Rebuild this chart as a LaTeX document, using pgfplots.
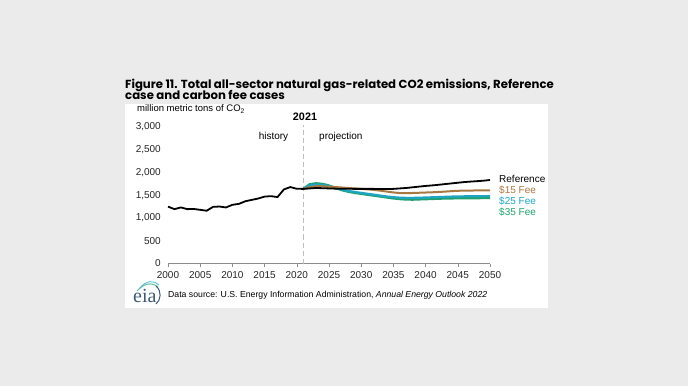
\documentclass[border=0pt]{standalone}
\usepackage{pgfplots}
\pgfplotsset{compat=1.18}
\usepackage{fontspec}
\setmainfont{Liberation Sans}
\newfontfamily\titlefont{Poppins}
\newfontfamily\logofont{Liberation Serif}
\definecolor{bg}{HTML}{EBEBEB}
\definecolor{gridc}{HTML}{E2E2E2}
\definecolor{axc}{HTML}{8C8C8C}
\definecolor{fee15}{RGB}{168,120,66}
\definecolor{fee25}{RGB}{30,165,195}
\definecolor{fee35}{RGB}{33,160,110}
\definecolor{logoc}{HTML}{3E5A74}
\begin{document}
\begin{tikzpicture}[x=1pt,y=1pt]
\path[fill=bg] (0,0) rectangle (688,386);
\path[fill=white] (125,78) rectangle (548,282);
% title
\node[anchor=base west,inner sep=0] at (125,297) {\titlefont\bfseries\fontsize{11.7}{13}\selectfont Figure 11. Total all-sector natural gas-related CO2 emissions, Reference};
\node[anchor=base west,inner sep=0] at (125,286) {\titlefont\bfseries\fontsize{11.7}{13}\selectfont case and carbon fee cases};
% y label
\node[anchor=base west,inner sep=0] at (137,274) {\fontsize{9.5}{11}\selectfont million metric tons of CO\textsubscript{2}};
\begin{axis}[
  at={(168pt,122.5pt)}, anchor=south west,
  scale only axis, width=322pt, height=136.5pt,
  xmin=2000, xmax=2050, ymin=0, ymax=3000,
  xtick={2000,2005,...,2050}, ytick={0,500,...,3000},
  axis x line*=bottom, axis y line=none,
  ymajorgrids, grid style={gridc, line width=0.6pt},
  x axis line style={axc, line width=0.8pt},
  xtick style={axc, line width=0.6pt},
  major tick length=3pt, xtick align=outside,
  /pgf/number format/assume math mode=true,
  xticklabel={\pgfmathprintnumber[1000 sep={}]{\tick}},
  ticklabel style={font=\fontsize{10}{12}\selectfont, text=black!85},
  xticklabel style={yshift=-1pt},
  clip=false,
]
\draw[gray!50, line width=0.8pt, dash pattern=on 5pt off 3pt] (axis cs:2021,0) -- (axis cs:2021,3050);
\addplot[fee35, line width=2.4pt] coordinates {
(2021,1640)(2022,1740)(2023,1762)(2024,1748)(2025,1712)(2026,1662)(2027,1612)(2028,1578)(2029,1552)(2030,1532)
(2031,1512)(2032,1492)(2033,1472)(2034,1452)(2035,1432)(2036,1417)(2037,1407)(2038,1405)(2039,1410)(2040,1415)
(2041,1420)(2042,1425)(2043,1430)(2044,1432)(2045,1435)(2046,1436)(2047,1437)(2048,1438)(2049,1439)(2050,1440)};
\addplot[fee25, line width=2.2pt] coordinates {
(2021,1640)(2022,1712)(2023,1735)(2024,1728)(2025,1700)(2026,1662)(2027,1625)(2028,1595)(2029,1572)(2030,1552)
(2031,1532)(2032,1512)(2033,1492)(2034,1472)(2035,1457)(2036,1447)(2037,1442)(2038,1442)(2039,1446)(2040,1450)
(2041,1455)(2042,1460)(2043,1465)(2044,1470)(2045,1474)(2046,1476)(2047,1478)(2048,1479)(2049,1480)(2050,1481)};
\addplot[fee15, line width=2pt] coordinates {
(2021,1640)(2022,1678)(2023,1698)(2024,1698)(2025,1690)(2026,1680)(2027,1670)(2028,1660)(2029,1650)(2030,1640)
(2031,1630)(2032,1618)(2033,1600)(2034,1580)(2035,1562)(2036,1547)(2037,1545)(2038,1550)(2039,1555)(2040,1560)
(2041,1565)(2042,1572)(2043,1580)(2044,1590)(2045,1598)(2046,1602)(2047,1604)(2048,1605)(2049,1606)(2050,1607)};
\addplot[black, line width=1.8pt] coordinates {
(2000,1250)(2001,1195)(2002,1232)(2003,1195)(2004,1198)(2005,1180)(2006,1160)(2007,1245)(2008,1252)(2009,1232)
(2010,1290)(2011,1310)(2012,1368)(2013,1398)(2014,1428)(2015,1470)(2016,1480)(2017,1460)(2018,1628)(2019,1680)
(2020,1642)(2021,1640)(2022,1650)(2023,1660)(2024,1655)(2025,1650)(2026,1645)(2027,1645)(2028,1642)(2029,1640)
(2030,1640)(2031,1640)(2032,1640)(2033,1636)(2034,1636)(2035,1640)(2036,1650)(2037,1660)(2038,1675)(2039,1690)
(2040,1705)(2041,1716)(2042,1730)(2043,1745)(2044,1760)(2045,1775)(2046,1790)(2047,1800)(2048,1810)(2049,1820)(2050,1835)};
\end{axis}
% y tick labels
\foreach \v/\t in {0/0,500/500,1000/{1,000},1500/{1,500},2000/{2,000},2500/{2,500},3000/{3,000}}{
  \node[anchor=east,inner sep=0,font=\fontsize{10}{12}\selectfont,text=black!85] at (161,{122.5+\v/3000*136.5}) {\t};
}
% annotations
\node[anchor=base,inner sep=0] at (305,265) {\bfseries\fontsize{10.8}{12}\selectfont 2021};
\node[anchor=base,inner sep=0] at (273.5,246) {\fontsize{10}{12}\selectfont history};
\node[anchor=base west,inner sep=0] at (319,246) {\fontsize{10}{12}\selectfont projection};
\node[anchor=base west,inner sep=0] at (499,203) {\fontsize{10}{12}\selectfont Reference};
\node[anchor=base west,inner sep=0,text=fee15] at (499,192) {\fontsize{10}{12}\selectfont \$15 Fee};
\node[anchor=base west,inner sep=0,text=fee25] at (499,181) {\fontsize{10}{12}\selectfont \$25 Fee};
\node[anchor=base west,inner sep=0,text=fee35] at (499,170) {\fontsize{10}{12}\selectfont \$35 Fee};
% footer
\node[anchor=base west,inner sep=0] at (168,89) {\fontsize{8.7}{10}\selectfont Data source: U.S. Energy Information Administration, \textit{Annual Energy Outlook 2022}};
\node[anchor=base west,inner sep=0,text=logoc] at (133,84) {\logofont\fontsize{20}{20}\selectfont eia};
\draw[fee35!70, line width=1pt] (137,95) .. controls (144,103) and (152,104) .. (158,99);
\draw[fee25!80, line width=0.8pt] (139,97) .. controls (146,106) and (154,106) .. (159,101);
\draw[logoc, line width=1pt] (156,100) .. controls (162,95) and (161,86) .. (156,82);
\end{tikzpicture}
\end{document}
